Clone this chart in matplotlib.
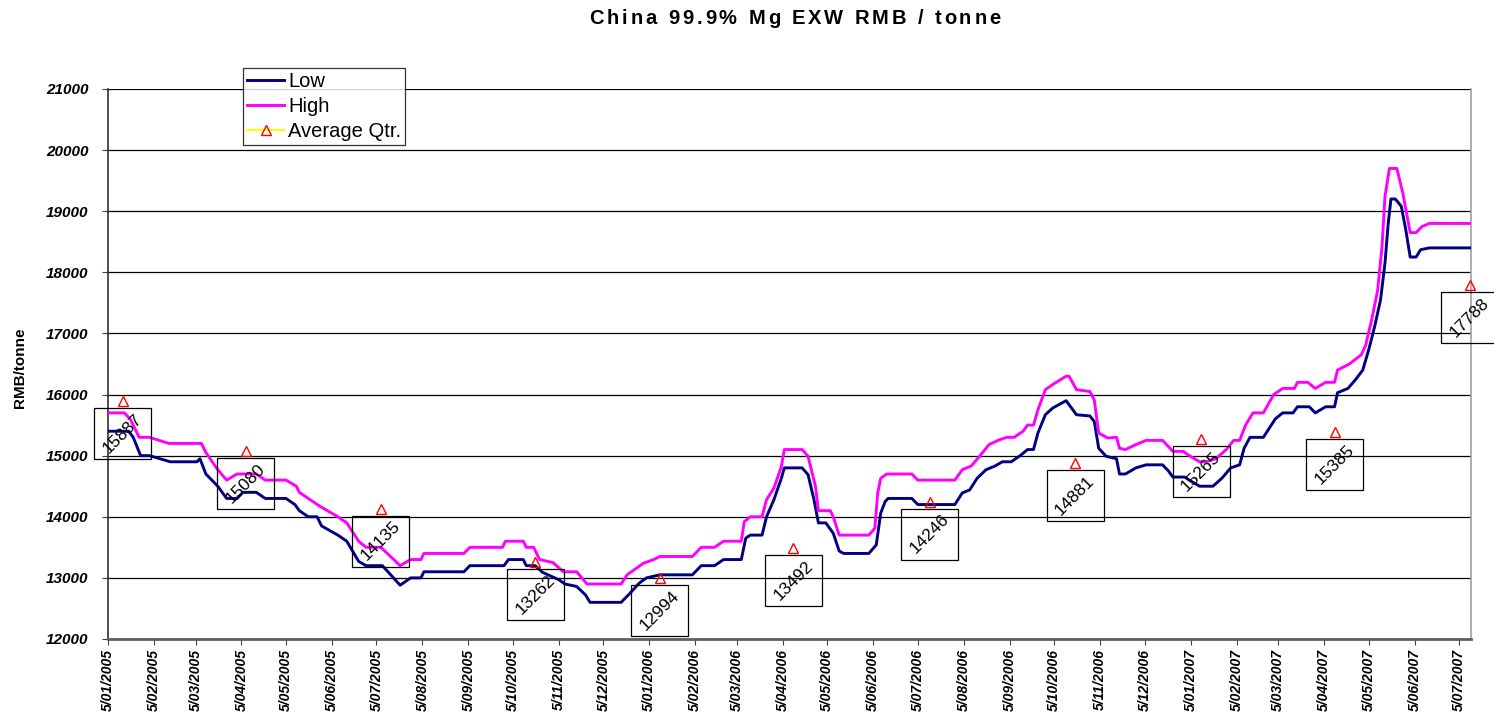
import matplotlib
matplotlib.use("Agg")
import matplotlib.pyplot as plt
import matplotlib.dates as mdates
from matplotlib.lines import Line2D
from matplotlib.patches import Rectangle
import pandas as pd

plt.rcParams['font.family'] = ['Liberation Sans', 'DejaVu Sans']

# Daily ex-works price band (RMB / tonne), recorded at each price change
low_dates = [
    "2005-01-05", "2005-01-19", "2005-01-22", "2005-01-27", "2005-02-02", "2005-02-16",
    "2005-03-06", "2005-03-08", "2005-03-12", "2005-03-20", "2005-03-26", "2005-04-02",
    "2005-04-06", "2005-04-15", "2005-04-21", "2005-05-05", "2005-05-11", "2005-05-14",
    "2005-05-20", "2005-05-26", "2005-05-29", "2005-06-09", "2005-06-15", "2005-06-23",
    "2005-06-28", "2005-07-09", "2005-07-21", "2005-07-28", "2005-08-04", "2005-08-06",
    "2005-09-02", "2005-09-06", "2005-09-29", "2005-10-02", "2005-10-12", "2005-10-14",
    "2005-10-20", "2005-10-25", "2005-11-05", "2005-11-09", "2005-11-17", "2005-11-23",
    "2005-11-26", "2005-12-17", "2005-12-23", "2005-12-29", "2006-01-03", "2006-01-12",
    "2006-02-03", "2006-02-09", "2006-02-18", "2006-02-24", "2006-03-08", "2006-03-11",
    "2006-03-14", "2006-03-22", "2006-03-25", "2006-03-30", "2006-04-04", "2006-04-06",
    "2006-04-18", "2006-04-22", "2006-04-26", "2006-04-29", "2006-05-04", "2006-05-09",
    "2006-05-13", "2006-05-16", "2006-06-02", "2006-06-07", "2006-06-10", "2006-06-13",
    "2006-06-15", "2006-07-01", "2006-07-05", "2006-07-30", "2006-08-04", "2006-08-09",
    "2006-08-14", "2006-08-20", "2006-08-26", "2006-08-31", "2006-09-06", "2006-09-12",
    "2006-09-17", "2006-09-21", "2006-09-24", "2006-09-29", "2006-10-04", "2006-10-13",
    "2006-10-20", "2006-10-29", "2006-11-01", "2006-11-04", "2006-11-09", "2006-11-16",
    "2006-11-18", "2006-11-22", "2006-11-29", "2006-12-06", "2006-12-17", "2006-12-21",
    "2006-12-24", "2007-01-01", "2007-01-04", "2007-01-11", "2007-01-20", "2007-01-26",
    "2007-02-01", "2007-02-07", "2007-02-10", "2007-02-14", "2007-02-23", "2007-03-03",
    "2007-03-08", "2007-03-15", "2007-03-18", "2007-03-26", "2007-03-30", "2007-04-06",
    "2007-04-12", "2007-04-14", "2007-04-21", "2007-04-26", "2007-05-01", "2007-05-05",
    "2007-05-09", "2007-05-13", "2007-05-16", "2007-05-18", "2007-05-20", "2007-05-23",
    "2007-05-27", "2007-05-30", "2007-06-02", "2007-06-06", "2007-06-09", "2007-06-15",
    "2007-07-13",
]
low_values = [
    15400, 15400, 15300, 15000, 15000, 14900,
    14900, 14950, 14700, 14500, 14300, 14300,
    14400, 14400, 14300, 14300, 14200, 14100,
    14000, 14000, 13850, 13700, 13600, 13270,
    13200, 13200, 12880, 13000, 13000, 13100,
    13100, 13200, 13200, 13300, 13300, 13200,
    13200, 13090, 12970, 12900, 12860, 12720,
    12600, 12600, 12750, 12910, 13000, 13050,
    13050, 13200, 13200, 13300, 13300, 13650,
    13700, 13700, 14000, 14280, 14630, 14800,
    14800, 14690, 14280, 13900, 13900, 13730,
    13440, 13400, 13400, 13540, 14060, 14250,
    14300, 14300, 14200, 14200, 14390, 14440,
    14630, 14770, 14830, 14900, 14900, 15000,
    15100, 15100, 15370, 15670, 15780, 15900,
    15670, 15650, 15560, 15120, 14990, 14950,
    14700, 14700, 14800, 14850, 14850, 14750,
    14650, 14650, 14600, 14500, 14500, 14630,
    14800, 14850, 15120, 15300, 15300, 15600,
    15700, 15700, 15800, 15800, 15700, 15800,
    15800, 16030, 16100, 16240, 16400, 16730,
    17110, 17550, 18150, 18750, 19200, 19200,
    19080, 18700, 18250, 18250, 18370, 18400,
    18400,
]

high_dates = [
    "2005-01-05", "2005-01-16", "2005-01-20", "2005-01-26", "2005-02-02", "2005-02-15",
    "2005-03-09", "2005-03-12", "2005-03-20", "2005-03-26", "2005-04-02", "2005-04-15",
    "2005-04-21", "2005-05-05", "2005-05-12", "2005-05-14", "2005-05-20", "2005-05-28",
    "2005-06-09", "2005-06-15", "2005-06-23", "2005-06-28", "2005-07-08", "2005-07-21",
    "2005-07-28", "2005-08-04", "2005-08-06", "2005-09-02", "2005-09-06", "2005-09-28",
    "2005-09-30", "2005-10-12", "2005-10-14", "2005-10-19", "2005-10-23", "2005-11-01",
    "2005-11-08", "2005-11-17", "2005-11-24", "2005-12-17", "2005-12-21", "2006-01-01",
    "2006-01-08", "2006-01-12", "2006-02-03", "2006-02-09", "2006-02-18", "2006-02-24",
    "2006-03-08", "2006-03-10", "2006-03-14", "2006-03-22", "2006-03-25", "2006-03-30",
    "2006-04-04", "2006-04-06", "2006-04-18", "2006-04-22", "2006-04-27", "2006-04-29",
    "2006-05-07", "2006-05-09", "2006-05-13", "2006-06-02", "2006-06-06", "2006-06-08",
    "2006-06-10", "2006-06-14", "2006-07-01", "2006-07-05", "2006-07-30", "2006-08-04",
    "2006-08-10", "2006-08-16", "2006-08-22", "2006-08-29", "2006-09-03", "2006-09-08",
    "2006-09-14", "2006-09-17", "2006-09-21", "2006-09-24", "2006-09-29", "2006-10-05",
    "2006-10-13", "2006-10-15", "2006-10-20", "2006-10-29", "2006-11-01", "2006-11-04",
    "2006-11-10", "2006-11-16", "2006-11-18", "2006-11-22", "2006-11-29", "2006-12-06",
    "2006-12-17", "2006-12-19", "2006-12-24", "2006-12-31", "2007-01-04", "2007-01-11",
    "2007-01-15", "2007-01-22", "2007-01-29", "2007-02-03", "2007-02-07", "2007-02-11",
    "2007-02-16", "2007-02-23", "2007-03-02", "2007-03-08", "2007-03-16", "2007-03-18",
    "2007-03-25", "2007-03-30", "2007-04-06", "2007-04-12", "2007-04-14", "2007-04-22",
    "2007-04-30", "2007-05-03", "2007-05-07", "2007-05-11", "2007-05-14", "2007-05-16",
    "2007-05-19", "2007-05-24", "2007-05-28", "2007-06-02", "2007-06-06", "2007-06-10",
    "2007-06-15", "2007-07-13",
]
high_values = [
    15700, 15700, 15600, 15300, 15300, 15200,
    15200, 15050, 14770, 14600, 14700, 14700,
    14600, 14600, 14500, 14400, 14300, 14170,
    14000, 13900, 13600, 13500, 13500, 13200,
    13300, 13300, 13400, 13400, 13500, 13500,
    13600, 13600, 13500, 13500, 13300, 13250,
    13100, 13100, 12900, 12900, 13050, 13240,
    13300, 13350, 13350, 13500, 13500, 13600,
    13600, 13920, 14000, 14000, 14280, 14470,
    14820, 15100, 15100, 14990, 14500, 14100,
    14100, 14000, 13700, 13700, 13810, 14390,
    14630, 14700, 14700, 14600, 14600, 14770,
    14830, 15000, 15180, 15260, 15300, 15300,
    15400, 15500, 15500, 15750, 16080, 16180,
    16300, 16300, 16080, 16050, 15910, 15370,
    15290, 15300, 15120, 15100, 15180, 15250,
    15250, 15200, 15070, 15070, 15000, 14900,
    14900, 14950, 15100, 15250, 15250, 15500,
    15700, 15700, 16000, 16100, 16100, 16200,
    16200, 16100, 16200, 16200, 16400, 16500,
    16650, 16810, 17220, 17700, 18420, 19240,
    19700, 19700, 19300, 18650, 18650, 18750,
    18800, 18800,
]

# Quarterly averages
avg_dates = [
    "2005-01-15", "2005-04-08", "2005-07-08", "2005-10-20", "2006-01-12", "2006-04-12",
    "2006-07-13", "2006-10-19", "2007-01-12", "2007-04-12", "2007-07-12",
]
avg_values = [15887, 15080, 14135, 13262, 12994, 13492, 14246, 14881, 15265, 15385, 17788]

# Monthly axis ticks
tick_dates = pd.date_range("2005-01-05", periods=31, freq=pd.DateOffset(months=1))
tick_labels = [f"{d.day}/{d.month:02d}/{d.year}" for d in tick_dates]

title = "China 99.9% Mg EXW RMB / tonne"
x_start, x_end = "2005-01-05", "2007-07-13"
y_min, y_max, y_step = 12000, 21000, 1000

W, H, DPI = 1494, 717, 100
fig = plt.figure(figsize=(W / DPI, H / DPI), dpi=DPI)
ax = fig.add_axes([108 / W, 1 - 639 / H, (1471 - 108) / W, (639 - 89) / H])

ld = pd.to_datetime(low_dates)
hd = pd.to_datetime(high_dates)
ad = pd.to_datetime(avg_dates)

ax.plot(ld, low_values, color="#000080", lw=2.1, solid_joinstyle="round", zorder=3)
ax.plot(hd, high_values, color="#FF00FF", lw=2.1, solid_joinstyle="round", zorder=3)
ax.plot(ad, avg_values, ls="none", marker="^", ms=7, mfc="none", mec="#FF0000",
        mew=1.0, zorder=4, clip_on=False)

ax.set_xlim(pd.Timestamp(x_start), pd.Timestamp(x_end))
ax.set_ylim(y_min, y_max)
ax.set_yticks(range(y_min, y_max + 1, y_step))
ax.yaxis.grid(True, color="black", lw=0.9)
ax.set_axisbelow(True)

ax.set_xticks(tick_dates)
ax.set_xticklabels(tick_labels, rotation=90, fontsize=10, fontweight="bold",
                   fontstyle="italic")
for lbl in ax.get_yticklabels():
    lbl.set_fontsize(11)
    lbl.set_fontweight("bold")
    lbl.set_fontstyle("italic")
ax.tick_params(axis="y", length=4, pad=10, color="#404040")
ax.tick_params(axis="x", length=4, pad=3, color="#404040")

ax.spines["top"].set_visible(False)
ax.spines["right"].set_color("#a0a0a0")
ax.spines["right"].set_linewidth(1.2)
ax.spines["left"].set_color("#303030")
ax.spines["left"].set_linewidth(1.2)
ax.spines["bottom"].set_color("#606060")
ax.spines["bottom"].set_linewidth(2.0)

# Boxed value labels under each quarterly marker
fig.canvas.draw()
renderer = fig.canvas.get_renderer()
box_w, box_h, box_gap = 57, 51, 7
inv = ax.transData.inverted()
for d, v in zip(ad, avg_values):
    px, py = ax.transData.transform((mdates.date2num(d), v))
    (x0, y0) = inv.transform((px - box_w / 2, py - box_gap - box_h))
    (x1, y1) = inv.transform((px + box_w / 2, py - box_gap))
    ax.add_patch(Rectangle((x0, y0), x1 - x0, y1 - y0, fill=False, ec="black",
                           lw=0.9, clip_on=False, zorder=5))
    ax.annotate(f"{v}", xy=(d, v), xytext=(0, -box_gap - box_h / 2),
                textcoords="offset pixels", rotation=45, rotation_mode="anchor",
                ha="center", va="center", fontsize=12.5, color="black",
                annotation_clip=False, zorder=6)

handles = [
    Line2D([], [], color="#000080", lw=2.1),
    Line2D([], [], color="#FF00FF", lw=2.1),
    Line2D([], [], color="#FFFF00", lw=1.5, marker="^", ms=7, mfc="none",
           mec="#FF0000", mew=1.0),
]
leg = ax.legend(handles, ["Low", "High", "Average Qtr."], loc="upper left",
                bbox_to_anchor=(243 / W, 1 - 68 / H), bbox_transform=fig.transFigure,
                borderaxespad=0, fontsize=14.5, frameon=True, fancybox=False,
                handlelength=1.85, handletextpad=0.2, borderpad=0.2,
                labelspacing=0.3)
leg.get_frame().set_edgecolor("black")
leg.get_frame().set_linewidth(0.9)
leg.set_zorder(10)


def spaced_text(text, cx, cy, width_px, **kw):
    """Draw text centred at (cx, cy) pixels, letter-spaced to a total width."""
    def w(s):
        t = fig.text(0, 0, s + "|", **kw)
        e = t.get_window_extent(renderer).width
        t.remove()
        return e
    bar = w("")
    prefix = [w(text[:k]) - bar for k in range(len(text) + 1)]
    extra = (width_px - prefix[-1]) / (len(text) - 1)
    left = cx - width_px / 2
    for k, ch in enumerate(text):
        if ch == " ":
            continue
        fig.text((left + prefix[k] + k * extra) / W, 1 - cy / H, ch,
                 ha="left", va="center", **kw)


spaced_text(title, 795, 18, 411, fontsize=14.5, fontweight="bold")
fig.text(20 / W, 1 - 368 / H, "RMB/tonne", rotation=90, ha="center", va="center",
         fontsize=11, fontweight="bold")

fig.savefig("out.png", dpi=DPI)
